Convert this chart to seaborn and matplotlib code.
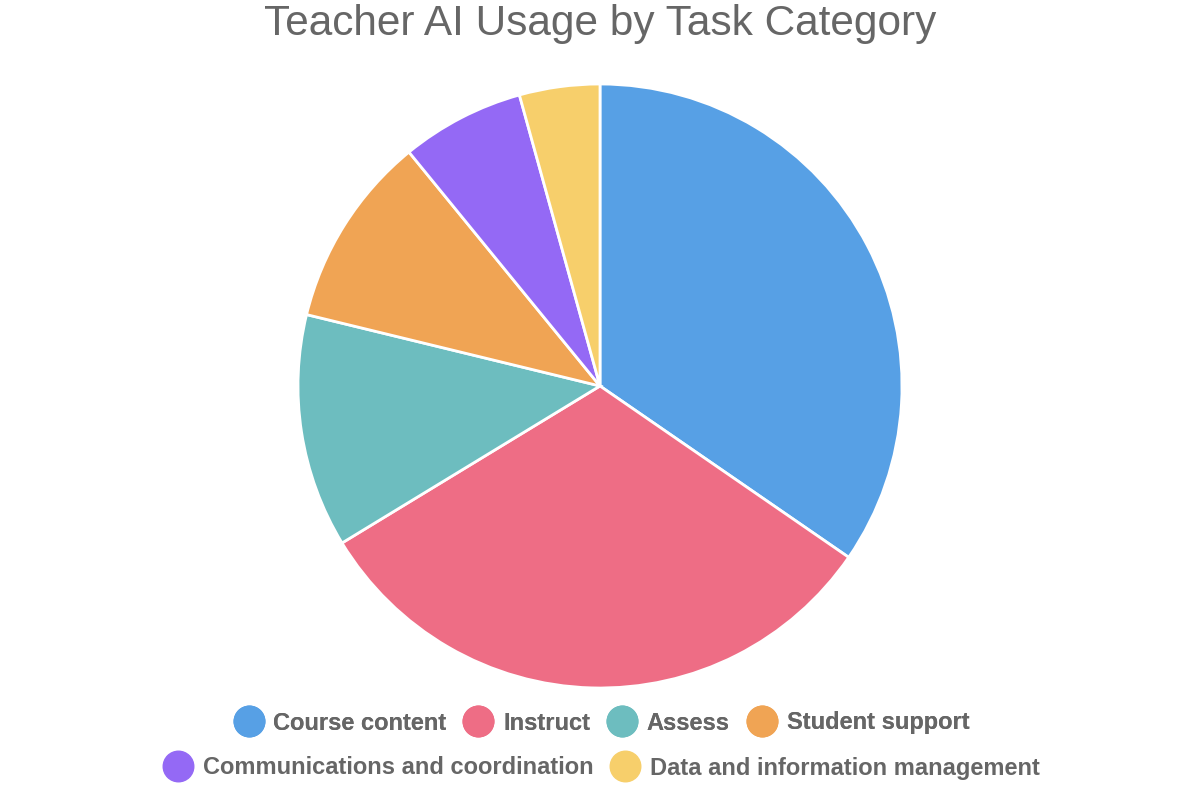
import matplotlib
matplotlib.use("Agg")
import matplotlib.pyplot as plt
import seaborn as sns
from matplotlib.lines import Line2D

# data
categories = ["Course content", "Instruct", "Assess", "Student support",
              "Communications and coordination", "Data and information management"]
shares = [34.6, 31.7, 12.5, 10.3, 6.6, 4.3]
colors = ["#57A0E5", "#EE6D85", "#6DBDBF", "#F0A454", "#9469F5", "#F7CF6B"]

sns.set_theme(style="white")
plt.rcParams["font.family"] = ["Liberation Sans", "DejaVu Sans"]

fig = plt.figure(figsize=(12, 8), dpi=100)
ax = fig.add_axes([298 / 1200, 112 / 800, 604 / 1200, 604 / 800])

ax.pie(shares, colors=colors, startangle=90, counterclock=False,
       wedgeprops=dict(edgecolor="white", linewidth=2))
ax.set_xlim(-1, 1)
ax.set_ylim(-1, 1)
ax.set_aspect("auto")
ax.axis("off")

fig.text(0.5, 1 - 24 / 800, "Teacher AI Usage by Task Category", ha="center", va="center",
         fontsize=30.5, color="#666666")

def handles(idx):
    return [Line2D([], [], marker="o", linestyle="", markersize=22,
                   markerfacecolor=colors[i], markeredgecolor=colors[i])
            for i in idx]

legend_kw = dict(loc="center", frameon=False, prop=dict(size=17, weight="bold"),
                 labelcolor="#666666", handletextpad=0.3, columnspacing=0.6,
                 handlelength=1.5)
row1 = [0, 1, 2, 3]
row2 = [4, 5]
leg1 = fig.legend(handles(row1), [categories[i] for i in row1], ncol=4,
                  bbox_to_anchor=(0.5, 1 - 723 / 800), **legend_kw)
fig.add_artist(leg1)
fig.legend(handles(row2), [categories[i] for i in row2], ncol=2,
           bbox_to_anchor=(0.5, 1 - 768 / 800), **legend_kw)

fig.savefig("out.png", dpi=100)
